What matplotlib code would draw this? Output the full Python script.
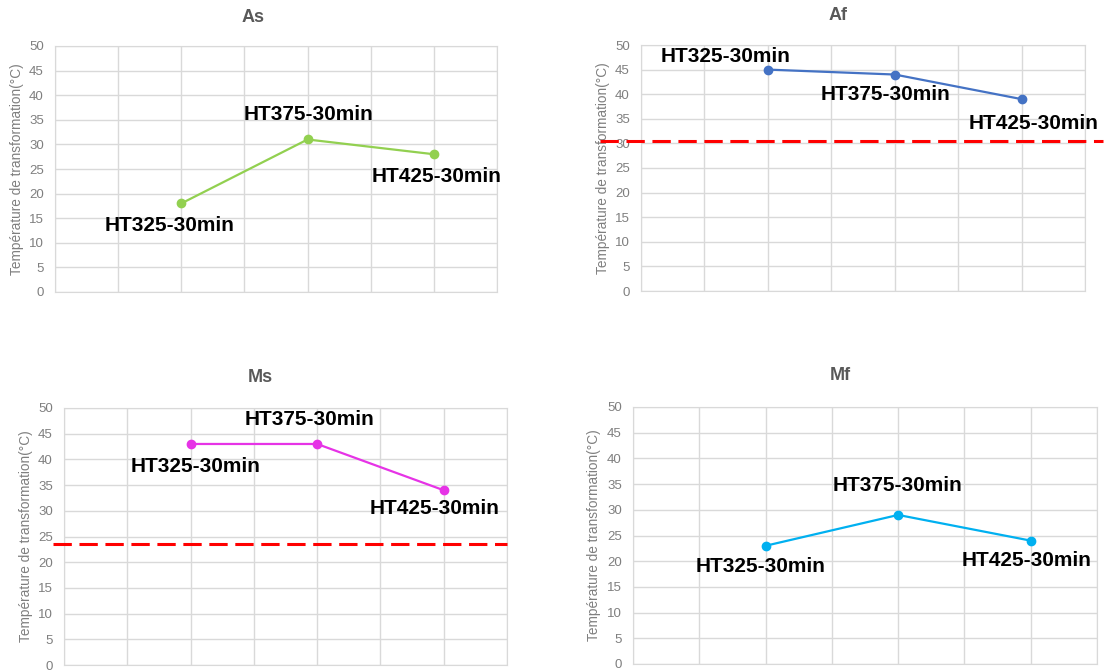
import matplotlib
matplotlib.use("Agg")
import matplotlib.pyplot as plt

plt.rcParams['font.family'] = ['Liberation Sans', 'DejaVu Sans']

# data
x_pos = [2, 4, 6]
labels = ["HT325-30min", "HT375-30min", "HT425-30min"]
as_vals = [18, 31, 28]
af_vals = [45, 44, 39]
ms_vals = [43, 43, 34]
mf_vals = [23, 29, 24]
af_ref = 30.5
ms_ref = 23.5

W, H = 1104, 671
fig = plt.figure(figsize=(W / 100, H / 100), dpi=100)


def px_rect(x0, x1, ytop, ybot):
    return [x0 / W, (H - ybot) / H, (x1 - x0) / W, (ybot - ytop) / H]


def make_panel(rect, vals, color, offsets, title, title_xy):
    ax = fig.add_axes(rect)
    ax.plot(x_pos, vals, color=color, lw=1.6, marker='o', ms=6, zorder=3)
    ax.set_xlim(0, 7)
    ax.set_ylim(0, 50)
    ax.set_xticks(range(0, 8))
    ax.set_yticks(range(0, 51, 5))
    ax.set_xticklabels([])
    ax.grid(True, color='#d9d9d9', lw=1)
    ax.tick_params(length=0, labelsize=9.5, labelcolor='#7f7f7f', pad=8)
    for s in ax.spines.values():
        s.set_color('#d9d9d9')
    ax.set_ylabel("Température de transformation(°C)", fontsize=9.8, color='#7f7f7f')
    ax.yaxis.set_label_coords(-0.07, 0.5)
    for xv, yv, lab, off in zip(x_pos, vals, labels, offsets):
        ax.annotate(lab, (xv, yv), xytext=off, textcoords='offset pixels',
                    ha='center', va='center', fontsize=15, fontweight='bold',
                    color='black', zorder=4)
    fig.text(title_xy[0] / W, 1 - title_xy[1] / H, title, ha='center', va='center',
             fontsize=13, fontweight='bold', color='#595959')
    return ax


ax1 = make_panel(px_rect(55, 497, 46, 292), as_vals, '#92d050',
                 [(-12, -22), (1, 25), (3, -22)], "As", (253, 18))
ax2 = make_panel(px_rect(641, 1085, 45, 291), af_vals, '#4472c4',
                 [(-42, 13), (-9, -20), (12, -24)], "Af", (838, 15))
ax3 = make_panel(px_rect(64, 507, 408, 665), ms_vals, '#e633e6',
                 [(5, -23), (-8, 24), (-9, -18)], "Ms", (260, 378))
ax4 = make_panel(px_rect(633, 1097, 407, 664), mf_vals, '#00b0f0',
                 [(-5, -21), (-1, 29), (-4, -20)], "Mf", (840, 375))

ax2.axhline(af_ref, xmin=-0.092, xmax=1.04, color='red', lw=2.2, ls=(0, (6, 2.5)),
            clip_on=False, zorder=5)
ax3.axhline(ms_ref, xmin=-0.025, xmax=1.0, color='red', lw=2.2, ls=(0, (6, 2.5)),
            clip_on=False, zorder=5)

fig.savefig("out.png", dpi=100)
